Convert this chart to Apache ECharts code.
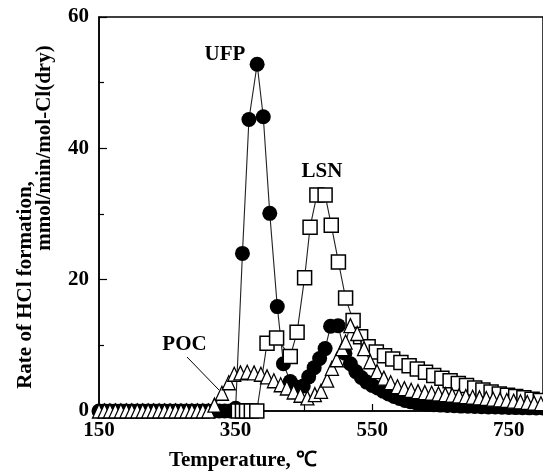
<!DOCTYPE html>
<html>
<head>
<meta charset="utf-8">
<script src="https://cdn.jsdelivr.net/npm/echarts@6/dist/echarts.min.js"></script>
<style>
html,body{margin:0;padding:0;background:#fff;}
#chart{width:543px;height:472px;}
</style>
</head>
<body>
<div id="chart"></div>
<script>
// ---- Data ----
const ufpTemp = [150,158,166,174,182,190,198,206,214,222,230,238,246,254,262,270,278,286,294,302,310,318,326,334,342,350,
  360,369.5,381.5,390.5,400,411,420,430,440,449,457,465,473,481,489,500,510,518,526,534,542,550,558,566,574,582,590,598,606,614,622,630,640,650,660,670,680,690,700,710,720,730,740,750,760,770,780,790,800];
const ufpRate = [0,0,0,0,0,0,0,0,0,0,0,0,0,0,0,0,0,0,0,0,0,0,0,0,0,0.4,
  24,44.4,52.8,44.8,30.1,15.9,7.2,4.5,3.6,3.8,5.2,6.6,8,9.5,12.9,13,8.8,7.2,6,5.1,4.4,3.9,3.5,3,2.6,2.2,1.9,1.6,1.4,1.25,1.15,1.05,0.95,0.9,0.85,0.8,0.75,0.72,0.7,0.66,0.62,0.6,0.57,0.55,0.52,0.5,0.48,0.46,0.45];

const lsnTemp = [354,360,366,373,381,396,410,430,440,451,459,469,481,490,500.5,511,522,533,544,556,568,580,592,604,616,628,640,652,664,676,688,700,712,724,736,748,760,772,784,796];
const lsnRate = [0,0,0,0,0,10.3,11.1,8.3,12,20.3,28,32.9,32.9,28.3,22.7,17.2,13.8,11.3,9.8,9.0,8.4,7.9,7.4,6.9,6.4,5.9,5.4,5.0,4.6,4.2,3.9,3.5,3.2,2.9,2.6,2.4,2.2,2.0,1.8,1.6];

const pocTemp = [150,158,166,174,182,190,198,206,214,222,230,238,246,254,262,270,278,286,294,302,310,
  319,330,340,348,357,367,377,387,396,406,416,425,435,445,455,466,475,484,491,498,506,511,518,528,538,547,557,567,577,587,597,607,617,627,637,647,657,667,677,687,697,707,717,727,737,747,757,767,777,787,797];
const pocRate = [0,0,0,0,0,0,0,0,0,0,0,0,0,0,0,0,0,0,0,0,0,
  0.9,2.7,4.3,5.6,5.8,5.9,5.8,5.6,5.2,4.6,4.0,3.5,2.9,2.4,2.0,2.5,3.0,4.7,6.5,7.8,9.5,10.5,13,11.8,9.5,7.5,6,5,4.3,3.7,3.4,3.15,2.95,2.8,2.7,2.6,2.5,2.4,2.3,2.2,2.1,2.0,1.9,1.8,1.7,1.6,1.5,1.4,1.3,1.2,1.1];

const xLabelValues = [150,350,550,750];
const xTickValues = [250,350,450,550,650,750];
const seriesNames = ['UFP','LSN','POC'];

function zip(a,b){ return a.map((t,i)=>[t,b[i]]); }

const FONT = '"Liberation Serif","Times New Roman",serif';
const chart = echarts.init(document.getElementById('chart'), null, {renderer:'canvas'});

const option = {
  animation:false,
  backgroundColor:'#fff',
  grid:{left:99, right:-3, top:17, bottom:61, show:true, borderColor:'#000', borderWidth:1.5, backgroundColor:'transparent'},
  xAxis:{
    type:'value', min:150, max:800,
    axisLine:{show:true, lineStyle:{color:'#000', width:1.5}},
    axisTick:{show:true, inside:true, length:7, lineStyle:{color:'#000', width:1.2}, customValues:xTickValues},
    axisLabel:{color:'#000', fontFamily:FONT, fontWeight:'bold', fontSize:21, margin:9, customValues:xLabelValues},
    splitLine:{show:false}
  },
  yAxis:{
    type:'value', min:0, max:60, interval:20,
    axisLine:{show:true, lineStyle:{color:'#000', width:1.5}},
    axisTick:{show:true, inside:true, length:8, lineStyle:{color:'#000', width:1.2}},
    minorTick:{show:true, splitNumber:2, length:5, lineStyle:{color:'#000', width:1.2}},
    axisLabel:{color:'#000', fontFamily:FONT, fontWeight:'bold', fontSize:21, margin:10},
    splitLine:{show:false}
  },
  series:[
    {name:seriesNames[0], type:'line', data:zip(ufpTemp,ufpRate), z:2, clip:false,
     symbol:'circle', symbolSize:15, showAllSymbol:true,
     itemStyle:{color:'#000', borderColor:'#000', borderWidth:0},
     lineStyle:{color:'#222', width:1.1}},
    {name:seriesNames[1], type:'line', data:zip(lsnTemp,lsnRate), z:3, clip:false,
     symbol:'rect', symbolSize:14, showAllSymbol:true,
     itemStyle:{color:'#fff', borderColor:'#000', borderWidth:1.5},
     lineStyle:{color:'#222', width:1.1}},
    {name:seriesNames[2], type:'line', data:zip(pocTemp,pocRate), z:4, clip:false,
     symbol:'triangle', symbolSize:[13,14], showAllSymbol:true,
     itemStyle:{color:'#fff', borderColor:'#000', borderWidth:1.3},
     lineStyle:{color:'#222', width:1.1}}
  ],
  graphic:[
    {type:'text', x:26, y:285, rotation:Math.PI/2,
     style:{text:'Rate of HCl formation,', fill:'#000', font:'bold 21px '+FONT, textAlign:'center', textVerticalAlign:'middle'}},
    {type:'text', x:45, y:148, rotation:Math.PI/2,
     style:{text:'mmol/min/mol-Cl(dry)', fill:'#000', font:'bold 21px '+FONT, textAlign:'center', textVerticalAlign:'middle'}},
    {type:'text', x:243, y:461,
     style:{text:'Temperature, \u2103', fill:'#000', font:'bold 21px '+FONT, textAlign:'center', textVerticalAlign:'middle'}},
    {type:'text', x:225, y:55, z:10,
     style:{text:seriesNames[0], fill:'#000', font:'bold 21px '+FONT, textAlign:'center', textVerticalAlign:'middle'}},
    {type:'text', x:322, y:172, z:10,
     style:{text:seriesNames[1], fill:'#000', font:'bold 21px '+FONT, textAlign:'center', textVerticalAlign:'middle'}},
    {type:'text', x:184.5, y:345, z:10,
     style:{text:seriesNames[2], fill:'#000', font:'bold 21px '+FONT, textAlign:'center', textVerticalAlign:'middle'}},
    {type:'line', z:10, shape:{x1:187, y1:357, x2:219, y2:390}, style:{stroke:'#000', lineWidth:1}}
  ]
};
chart.setOption(option);
</script>
</body>
</html>
